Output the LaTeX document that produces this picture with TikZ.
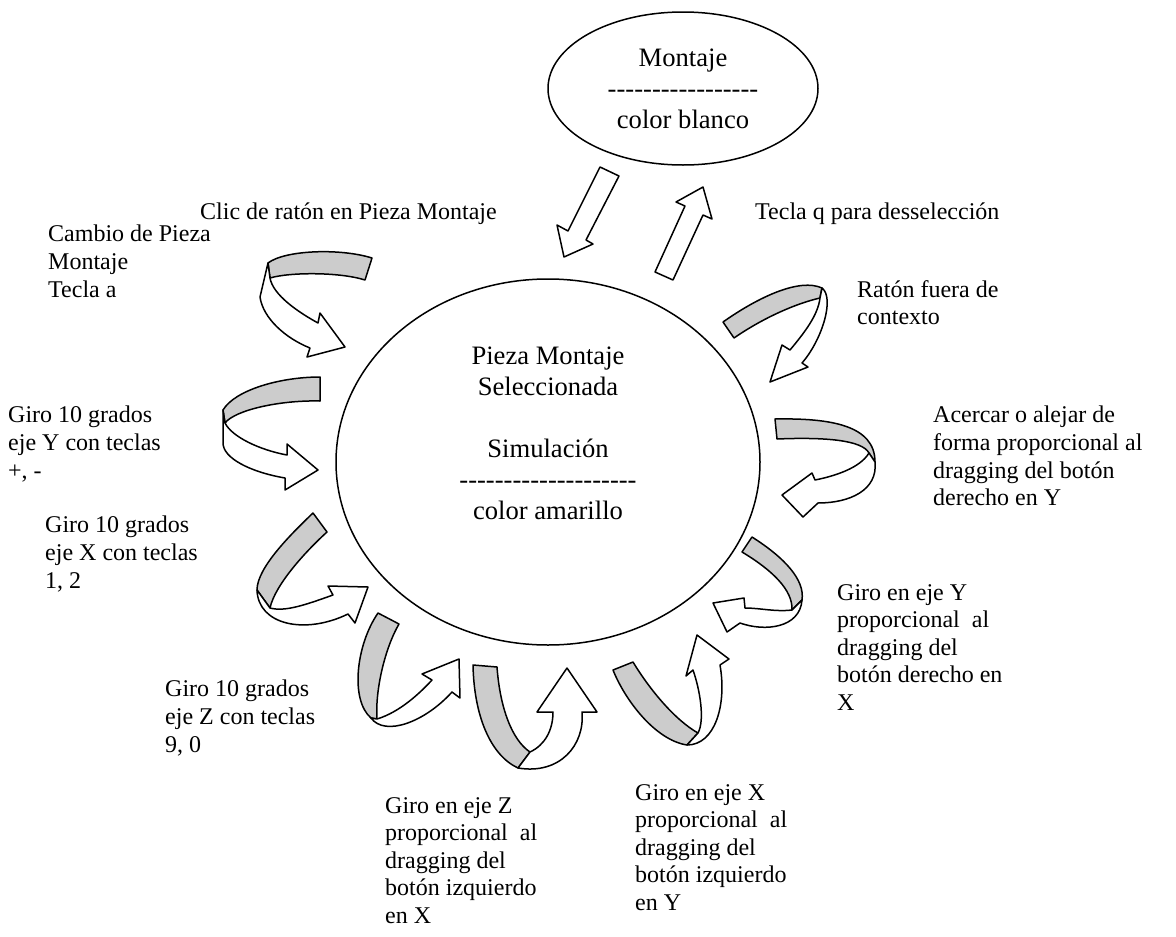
\documentclass[tikz,border=0pt]{standalone}
\usepackage{fontspec}
\setmainfont{Liberation Serif}
\usetikzlibrary{shapes.geometric}
% a hyphen that never joins its neighbour into an en dash
\newcommand\hy{-{}}
\begin{document}
\begin{tikzpicture}[x=1bp,y=-1bp,
  outline/.style={draw=black, line width=1.5bp, line join=round},
  band/.style={outline, fill=black!20},
  face/.style={outline, fill=white},
  lbl/.style={anchor=north west, inner sep=0pt, align=left,
              font=\fontsize{24bp}{27.6bp}\selectfont},
  body/.style={font=\fontsize{26.6bp}{31bp}\selectfont, align=center}]
\useasboundingbox (0,0) rectangle (1176,937);

% states
\node[ellipse, outline, minimum width=270bp, minimum height=153bp, inner sep=0pt, body]
  (mont) at (683,88.5)
  {Montaje\\ \hy\hy\hy\hy\hy\hy\hy\hy\hy\hy\hy\hy\hy\hy\hy\hy\hy\\ color blanco};
\node[ellipse, outline, minimum width=424bp, minimum height=366bp, inner sep=0pt]
  (sel) at (548,462) {};
\node[body, anchor=north, inner sep=0pt] (seltext) at (548,347)
  {Pieza Montaje\\ Seleccionada\\[31bp] Simulación\\
   \hy\hy\hy\hy\hy\hy\hy\hy\hy\hy\hy\hy\hy\hy\hy\hy\hy\hy\hy\hy\\ color amarillo};

% straight block arrows between the two states
\draw[face] (600,167) -- (619,176) -- (586,240) -- (593,244) -- (564,257)
  -- (557,225) -- (568,231) -- cycle;
\draw[face] (655,272) -- (685,206) -- (676,202) -- (703,187) -- (712,219)
  -- (703,215) -- (673,280) -- cycle;

% U-turn arrows: grey back band, then white front band with head
% change of piece
\draw[band] (372,258) .. controls (340,248) and (285,250) .. (268,263) -- (270,278)
  .. controls (290,272) and (340,272) .. (365,280) -- cycle;
\draw[face] (268,263) -- (260,297) .. controls (263,318) and (285,338) .. (310,348)
  -- (307,357) -- (345,347) -- (320,313) -- (318,323)
  .. controls (298,312) and (273,295) .. (270,278) -- cycle;
% Y axis keys
\draw[band] (320,377) .. controls (280,377) and (235,390) .. (223,410) -- (225,423)
  .. controls (235,410) and (280,400) .. (320,401) -- cycle;
\draw[face] (223,410) -- (223,443) .. controls (223,458) and (250,472) .. (285,478)
  -- (285,490) -- (318,470) -- (287,444) -- (287,455)
  .. controls (260,450) and (232,437) .. (225,423) -- cycle;
% X axis keys
\draw[band] (313,513) .. controls (290,535) and (257,568) .. (257,590) -- (270,608)
  .. controls (275,585) and (305,552) .. (327,532) -- cycle;
\draw[face] (257,590) .. controls (258,625) and (305,635) .. (348,614)
  -- (355,623) -- (368,587) -- (328,586) -- (333,595)
  .. controls (305,605) and (285,612) .. (270,608) -- cycle;
% Z axis keys
\draw[band] (378,613) .. controls (356,645) and (350,700) .. (371,718) -- (377,719)
  .. controls (375,690) and (385,648) .. (399,624) -- cycle;
\draw[face] (371,718) .. controls (385,737) and (425,722) .. (452,692)
  -- (460,698) -- (459,659) -- (422,674) -- (432,680)
  .. controls (420,693) and (400,712) .. (377,719) -- cycle;
% Z axis drag
\draw[band] (473,665) .. controls (474,715) and (490,755) .. (518,768) -- (530,752)
  .. controls (512,740) and (500,708) .. (497,667) -- cycle;
\draw[face] (518,768) .. controls (560,775) and (585,745) .. (582,712)
  -- (597,712) -- (567,668) -- (537,712) -- (553,712)
  .. controls (553,730) and (545,745) .. (530,752) -- cycle;
% X axis drag
\draw[band] (613,670) .. controls (625,700) and (655,740) .. (687,745) -- (698,733)
  .. controls (675,720) and (650,690) .. (633,662) -- cycle;
\draw[face] (687,745) .. controls (715,745) and (727,705) .. (720,665)
  -- (729,659) -- (697,635) -- (686,676) -- (693,670)
  .. controls (700,690) and (705,720) .. (698,733) -- cycle;
% Y axis drag
\draw[band] (752,537) .. controls (785,558) and (805,580) .. (802,600) -- (792,610)
  .. controls (793,590) and (772,570) .. (742,552) -- cycle;
\draw[face] (802,600) .. controls (800,628) and (765,632) .. (740,623)
  -- (727,632) -- (713,603) -- (744,598) -- (745,608)
  .. controls (760,608) and (775,612) .. (792,610) -- cycle;
% zoom
\draw[band] (775,419) .. controls (830,418) and (875,425) .. (875,462) -- (869,453)
  .. controls (862,440) and (825,437) .. (777,439) -- cycle;
\draw[face] (875,462) .. controls (878,490) and (850,503) .. (818,503)
  -- (803,517) -- (782,495) -- (812,473) -- (815,480)
  .. controls (835,476) and (860,468) .. (869,453) -- cycle;
% mouse out of context
\draw[band] (723,322) .. controls (760,296) and (800,278) .. (822,288) -- (820,298)
  .. controls (790,305) and (757,322) .. (734,338) -- cycle;
\draw[face] (822,288) .. controls (835,298) and (822,340) .. (802,363)
  -- (808,367) -- (770,382) -- (782,345) -- (790,350)
  .. controls (805,332) and (818,315) .. (820,298) -- cycle;

% labels
\node[lbl] (clic) at (200,203) {Clic de ratón en Pieza Montaje};
\node[lbl] (tecq) at (755,203) {Tecla q para desselección};
\node[lbl] (camb) at (48,225) {Cambio de Pieza\\ Montaje\\ Tecla a};
\node[lbl] (fuera) at (857,280) {Ratón fuera de\\ contexto};
\node[lbl] (gy) at (8,406) {Giro 10 grados\\ eje Y con teclas\\ +, -};
\node[lbl] (acer) at (933,406) {Acercar o alejar de\\ forma proporcional al\\ dragging del botón\\ derecho en Y};
\node[lbl] (gx) at (45,516) {Giro 10 grados\\ eje X con teclas\\ 1, 2};
\node[lbl] (dy) at (837,584) {Giro en eje Y\\ proporcional~ al\\ dragging del\\ botón derecho en\\ X};
\node[lbl] (gz) at (165,680) {Giro 10 grados\\ eje Z con teclas\\ 9, 0};
\node[lbl] (dz) at (385,797) {Giro en eje Z\\ proporcional~ al\\ dragging del\\ botón izquierdo\\ en X};
\node[lbl] (dx) at (635,784) {Giro en eje X\\ proporcional~ al\\ dragging del\\ botón izquierdo\\ en Y};
\end{tikzpicture}
\end{document}
